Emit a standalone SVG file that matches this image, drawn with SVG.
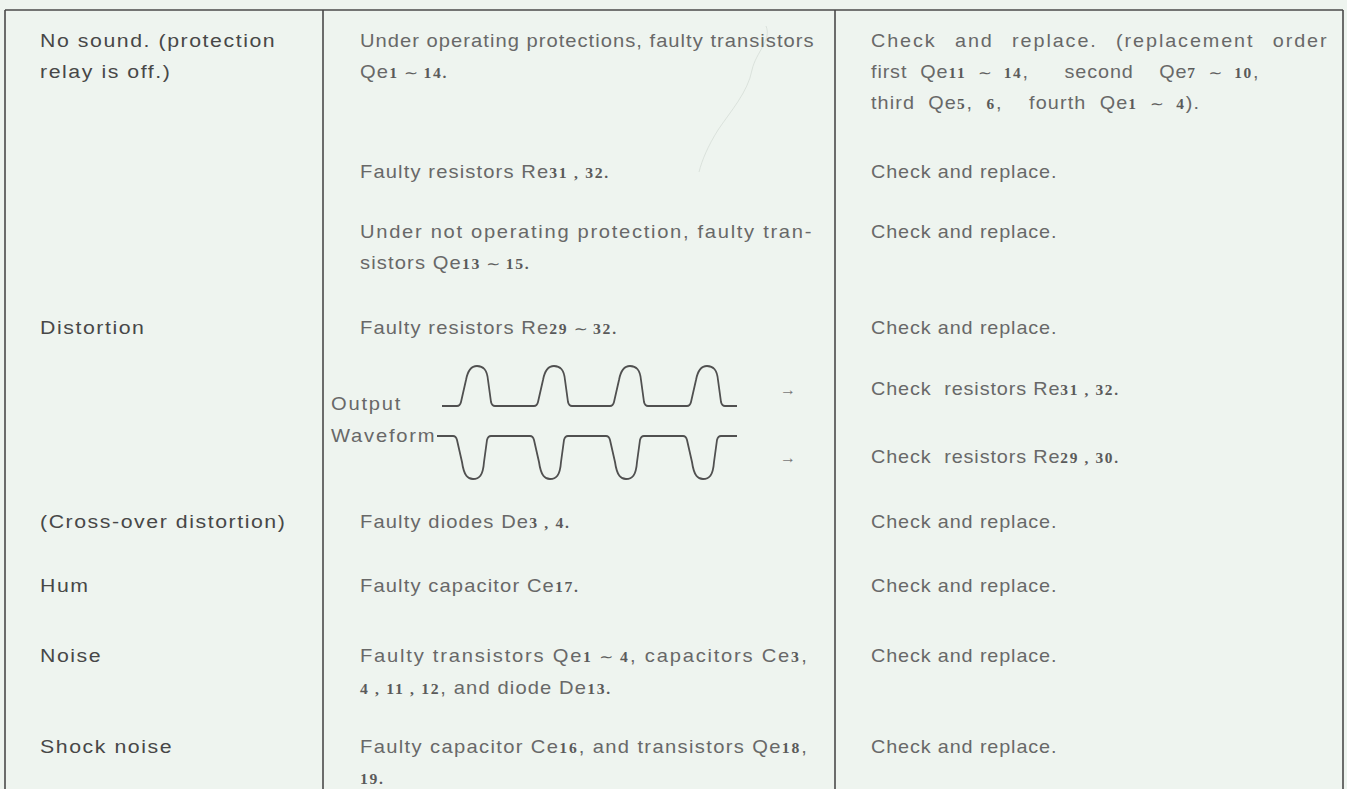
<svg xmlns="http://www.w3.org/2000/svg" width="1347" height="789" viewBox="0 0 1347 789">
  <style>
    text { white-space: pre; }
    .c1 { font-family: "Liberation Sans", Arial, sans-serif; font-size: 19px; fill: #474747; letter-spacing: 1.4px; }
    .t { font-family: "Liberation Sans", Arial, sans-serif; font-size: 18px; fill: #686868; letter-spacing: 1px; }
    .t3 { font-family: "Liberation Sans", Arial, sans-serif; font-size: 18px; fill: #686868; letter-spacing: 0.8px; }
    .n { font-family: "Liberation Serif", "Times New Roman", serif; font-size: 14px; font-weight: bold; fill: #5a5a5a; letter-spacing: 1.5px; }
    .tl { font-family: "DejaVu Sans", sans-serif; font-size: 15px; fill: #5a5a5a; letter-spacing: 0; }
    .rule { stroke: #4a4a4a; stroke-width: 1.6; fill: none; }
    .wave { stroke: #505050; stroke-width: 1.8; fill: none; stroke-linejoin: round; }
    .arr { font-family: "Liberation Sans", Arial, sans-serif; font-size: 16px; fill: #777; }
  </style>

  <!-- page -->
  <rect x="0" y="0" width="1347" height="789" fill="#eef4ef"/>
  <path d="M766,26 C772,40 756,52 752,70 C748,92 730,112 718,130 C708,146 702,160 699,172" stroke="#cdd6cf" stroke-width="1" fill="none" opacity="0.6"/>

  <!-- table rules -->
  <g id="grid">
    <line class="rule" x1="5" y1="10" x2="1343" y2="10"/>
    <line class="rule" x1="5" y1="10" x2="5" y2="789"/>
    <line class="rule" x1="323" y1="10" x2="323" y2="789"/>
    <line class="rule" x1="835" y1="10" x2="835" y2="789"/>
    <line class="rule" x1="1343" y1="10" x2="1343" y2="789"/>
  </g>

  <!-- symptom column (wide face: glyphs stretched horizontally) -->
  <g id="symptoms" transform="translate(40,0) scale(1.12,1)">
    <text class="c1" x="0" y="47">No sound. (protection</text>
    <text class="c1" x="0" y="78">relay is off.)</text>
    <text class="c1" x="0" y="334">Distortion</text>
    <text class="c1" x="0" y="528">(Cross-over distortion)</text>
    <text class="c1" x="0" y="592">Hum</text>
    <text class="c1" x="0" y="662">Noise</text>
    <text class="c1" x="0" y="753">Shock noise</text>
  </g>

  <!-- cause column -->
  <g id="causes" transform="translate(360,0) scale(1.12,1)">
    <text class="t" x="0" y="47" textLength="406" lengthAdjust="spacing">Under operating protections, faulty transistors</text>
    <text class="t" x="0" y="78">Qe<tspan class="n">1</tspan><tspan class="tl"> ∼ </tspan><tspan class="n">14.</tspan></text>
    <text class="t" x="0" y="178">Faulty resistors Re<tspan class="n">31 , 32.</tspan></text>
    <text class="t" x="0" y="238" textLength="404" lengthAdjust="spacing">Under not operating protection, faulty tran-</text>
    <text class="t" x="0" y="269">sistors Qe<tspan class="n">13</tspan><tspan class="tl"> ∼ </tspan><tspan class="n">15.</tspan></text>
    <text class="t" x="0" y="334">Faulty resistors Re<tspan class="n">29</tspan><tspan class="tl"> ∼ </tspan><tspan class="n">32.</tspan></text>
    <text class="t" x="0" y="528">Faulty diodes De<tspan class="n">3 , 4.</tspan></text>
    <text class="t" x="0" y="592">Faulty capacitor Ce<tspan class="n">17.</tspan></text>
    <text class="t" x="0" y="662" textLength="400" lengthAdjust="spacing">Faulty transistors Qe<tspan class="n">1</tspan><tspan class="tl"> ∼ </tspan><tspan class="n">4</tspan>, capacitors Ce<tspan class="n">3</tspan>,</text>
    <text class="t" x="0" y="694"><tspan class="n">4 , 11 , 12</tspan>, and diode De<tspan class="n">13.</tspan></text>
    <text class="t" x="0" y="753" textLength="400" lengthAdjust="spacing">Faulty capacitor Ce<tspan class="n">16</tspan>, and transistors Qe<tspan class="n">18</tspan>,</text>
    <text class="t" x="0" y="784"><tspan class="n">19.</tspan></text>
  </g>

  <!-- output waveform sketch -->
  <g id="waveform">
    <g transform="translate(331,0) scale(1.12,1)">
      <text class="t" x="0" y="410" style="letter-spacing:1.6px">Output</text>
      <text class="t" x="0" y="442" style="letter-spacing:1.6px">Waveform</text>
    </g>
    <path class="wave" d="M442,406 L457,406 Q460,406 461,402 L466,380 C468,369 472,366 477,366 C483,366 487,369 488,380 L491,402 Q492,406 495,406
      L534,406 Q537,406 538,402 L543,380 C545,369 549,366 554,366 C560,366 564,369 565,380 L568,402 Q569,406 572,406
      L610,406 Q613,406 614,402 L619,380 C621,369 625,366 630,366 C636,366 640,369 641,380 L644,402 Q645,406 648,406
      L687,406 Q690,406 691,402 L696,380 C698,369 702,366 707,366 C713,366 717,369 718,380 L721,402 Q722,406 725,406 L737,406"/>
    <path class="wave" d="M437,436 L453,436 Q456,436 457,440 L462,462 C464,476 468,479 473,479 C479,479 483,476 484,462 L487,440 Q488,436 491,436
      L530,436 Q533,436 534,440 L539,462 C541,476 545,479 550,479 C556,479 560,476 561,462 L564,440 Q565,436 568,436
      L606,436 Q609,436 610,440 L615,462 C617,476 621,479 626,479 C632,479 636,476 637,462 L640,440 Q641,436 644,436
      L683,436 Q686,436 687,440 L692,462 C694,476 698,479 703,479 C709,479 713,476 714,462 L717,440 Q718,436 721,436 L737,436"/>
    <text class="arr" x="780" y="395">→</text>
    <text class="arr" x="780" y="463">→</text>
  </g>

  <!-- remedy column -->
  <g id="remedies" transform="translate(871,0) scale(1.1,1)">
    <text class="t3" x="0" y="47" textLength="415" lengthAdjust="spacing" style="word-spacing:10px">Check and replace. (replacement order</text>
    <text class="t3" x="0" y="78" style="word-spacing:6px">first Qe<tspan class="n">11</tspan><tspan class="tl"> ∼ </tspan><tspan class="n">14</tspan>,<tspan x="176">second</tspan><tspan x="262">Qe</tspan><tspan class="n">7</tspan><tspan class="tl"> ∼ </tspan><tspan class="n">10</tspan>,</text>
    <text class="t3" x="0" y="109" textLength="299" lengthAdjust="spacing" style="word-spacing:6px">third Qe<tspan class="n">5</tspan>, <tspan class="n">6</tspan>,  fourth Qe<tspan class="n">1</tspan><tspan class="tl"> ∼ </tspan><tspan class="n">4</tspan>).</text>
    <text class="t3" x="0" y="178">Check and replace.</text>
    <text class="t3" x="0" y="238">Check and replace.</text>
    <text class="t3" x="0" y="334">Check and replace.</text>
    <text class="t3" x="0" y="395">Check  resistors Re<tspan class="n">31 , 32.</tspan></text>
    <text class="t3" x="0" y="463">Check  resistors Re<tspan class="n">29 , 30.</tspan></text>
    <text class="t3" x="0" y="528">Check and replace.</text>
    <text class="t3" x="0" y="592">Check and replace.</text>
    <text class="t3" x="0" y="662">Check and replace.</text>
    <text class="t3" x="0" y="753">Check and replace.</text>
  </g>
</svg>
